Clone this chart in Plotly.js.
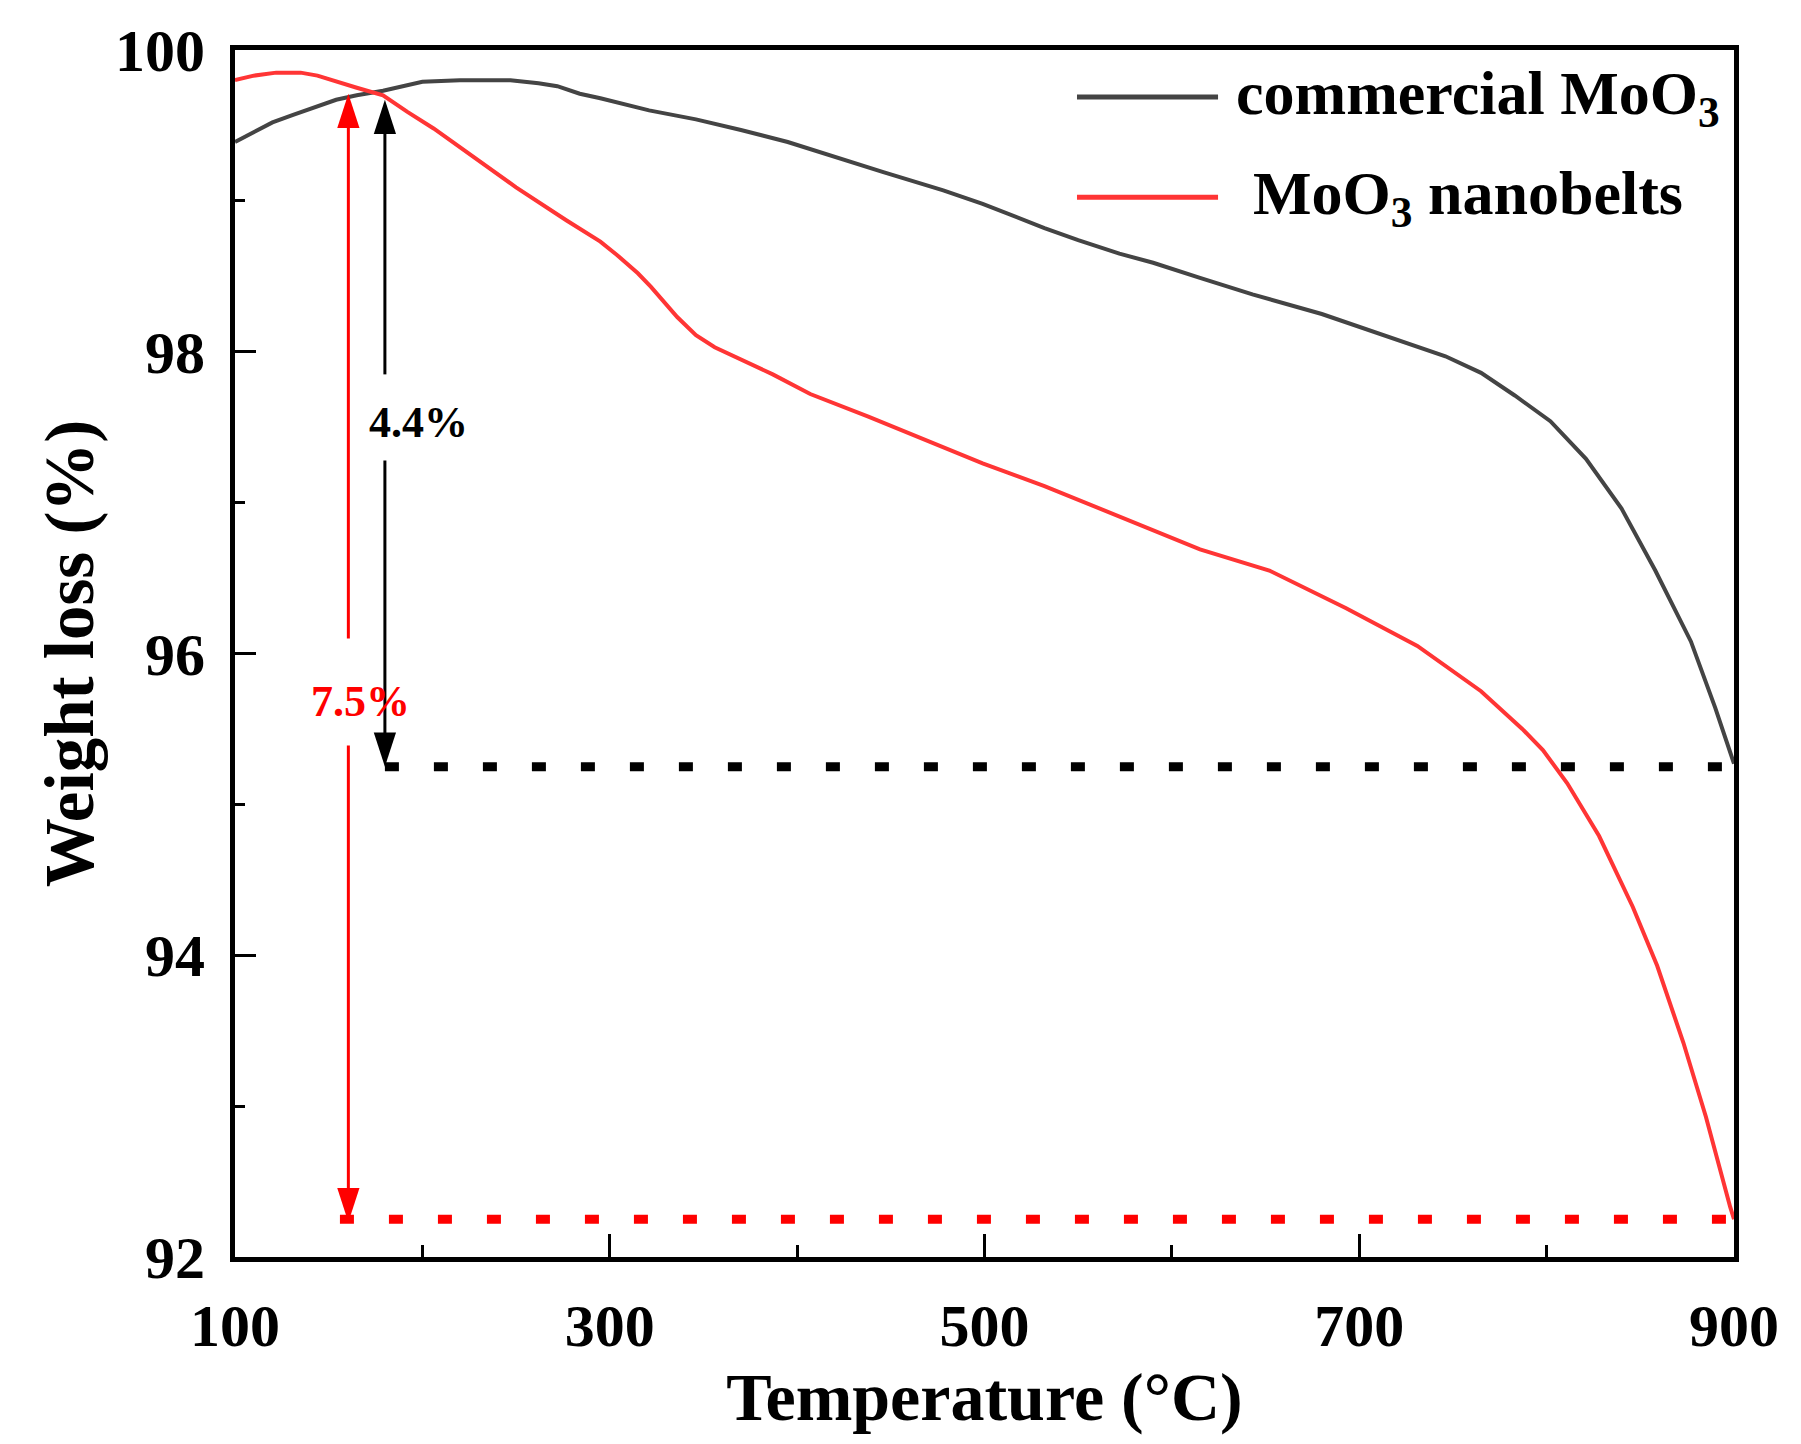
<!DOCTYPE html>
<html>
<head>
<meta charset="utf-8">
<script src="https://cdn.plot.ly/plotly-3.0.1.min.js"></script>
<style>
  html, body { margin: 0; padding: 0; background: #fff; }
  #tga-chart { width: 1801px; height: 1444px; }
</style>
</head>
<body>
<div id="tga-chart"></div>
<script>
// TGA curves
const tempCommercial = [100, 120, 131, 140, 154, 165, 179, 200, 220, 247, 262, 272, 284, 295, 321, 346, 370, 395, 420, 446, 478, 499, 532, 550, 572, 590, 615, 643, 680, 718, 746, 765, 783, 802, 821, 840, 858, 877, 890, 900];
const weightCommercial = [99.39, 99.52, 99.57, 99.61, 99.67, 99.70, 99.73, 99.79, 99.80, 99.80, 99.78, 99.76, 99.71, 99.68, 99.60, 99.54, 99.47, 99.39, 99.29, 99.19, 99.07, 98.98, 98.82, 98.74, 98.65, 98.59, 98.49, 98.38, 98.25, 98.09, 97.97, 97.86, 97.71, 97.54, 97.29, 96.96, 96.55, 96.08, 95.64, 95.27];

const tempNanobelts = [100, 110, 122, 135, 144, 154, 165, 179, 192, 206, 224, 250, 277, 295, 304, 315, 322, 336, 346, 356, 387, 407, 438, 468, 499, 532, 550, 580, 615, 652, 693, 731, 765, 787, 798, 811, 828, 846, 859, 873, 885, 898, 900];
const weightNanobelts = [99.80, 99.83, 99.85, 99.85, 99.83, 99.79, 99.75, 99.70, 99.59, 99.48, 99.32, 99.09, 98.87, 98.73, 98.64, 98.52, 98.43, 98.23, 98.11, 98.03, 97.85, 97.72, 97.57, 97.42, 97.26, 97.11, 97.02, 96.87, 96.69, 96.55, 96.30, 96.05, 95.75, 95.50, 95.36, 95.14, 94.79, 94.32, 93.93, 93.42, 92.93, 92.33, 92.25];

// final weight levels (dotted guides) and where they start
const guideTempBlack = [180, 900];
const guideLevelBlack = [95.25, 95.25];
const guideTempRed = [156, 900];
const guideLevelRed = [92.25, 92.25];

// measuring arrows: [top, gap top, gap bottom, bottom]
const arrowTempBlack = 180;
const arrowLevelsBlack = [99.67, 97.85, 97.28, 95.25];
const arrowTempRed = 160.5;
const arrowLevelsRed = [99.71, 96.10, 95.39, 92.23];

const lossLabels = ['4.4%', '7.5%'];
const lossLabelTemp = [197.7, 167.2];
const lossLabelLevel = [97.53, 95.68];

const seriesNames = ['commercial MoO<sub>3</sub>', 'MoO<sub>3</sub> nanobelts'];

const FONT = '"Liberation Serif", "Times New Roman", Times, serif';
const GREY = '#444444';
const RED = '#ff3535';

// one shaft of a measuring arrow, head drawn at the "to" end
function arrowTrace(x, from, to, color) {
    return {
        x: [x, x], y: [from, to],
        type: 'scatter', mode: 'lines+markers', hoverinfo: 'skip',
        line: { color: color, width: 3 },
        marker: {
            symbol: 'arrow', angleref: 'previous', size: [0, 36],
            color: color, opacity: 1, line: { width: 0 }
        }
    };
}

const data = [
    {
        x: tempCommercial, y: weightCommercial,
        type: 'scatter', mode: 'lines', name: seriesNames[0],
        line: { color: GREY, width: 4 }
    },
    {
        x: tempNanobelts, y: weightNanobelts,
        type: 'scatter', mode: 'lines', name: seriesNames[1],
        line: { color: RED, width: 4 }
    },
    {
        x: guideTempBlack, y: guideLevelBlack,
        type: 'scatter', mode: 'lines', hoverinfo: 'skip',
        line: { color: '#000', width: 9, dash: '14px,35px' }
    },
    {
        x: guideTempRed, y: guideLevelRed,
        type: 'scatter', mode: 'lines', hoverinfo: 'skip',
        line: { color: '#ff0000', width: 9, dash: '14px,35px' }
    },
    arrowTrace(arrowTempBlack, arrowLevelsBlack[1], arrowLevelsBlack[0], '#000'),
    arrowTrace(arrowTempBlack, arrowLevelsBlack[2], arrowLevelsBlack[3], '#000'),
    arrowTrace(arrowTempRed, arrowLevelsRed[1], arrowLevelsRed[0], '#ff0000'),
    arrowTrace(arrowTempRed, arrowLevelsRed[2], arrowLevelsRed[3], '#ff0000')
];

const annotations = [
    {
        xref: 'x', yref: 'y', x: lossLabelTemp[0], y: lossLabelLevel[0],
        text: lossLabels[0], showarrow: false,
        font: { family: FONT, size: 44, color: '#000', weight: 700 }
    },
    {
        xref: 'x', yref: 'y', x: lossLabelTemp[1], y: lossLabelLevel[1],
        text: lossLabels[1], showarrow: false,
        font: { family: FONT, size: 44, color: '#ff0000', weight: 700 }
    },
    // hand-made legend text
    {
        xref: 'paper', yref: 'paper', x: 0.6664, y: 0.961,
        xanchor: 'left', yanchor: 'middle',
        text: seriesNames[0], showarrow: false,
        font: { family: FONT, size: 62, color: '#000', weight: 700 }
    },
    {
        xref: 'paper', yref: 'paper', x: 0.6778, y: 0.878,
        xanchor: 'left', yanchor: 'middle',
        text: seriesNames[1], showarrow: false,
        font: { family: FONT, size: 62, color: '#000', weight: 700 }
    }
];

const shapes = [
    { type: 'line', xref: 'paper', yref: 'paper', x0: 0.5617, x1: 0.6558, y0: 0.961, y1: 0.961,
      line: { color: GREY, width: 5 } },
    { type: 'line', xref: 'paper', yref: 'paper', x0: 0.5617, x1: 0.6558, y0: 0.878, y1: 0.878,
      line: { color: RED, width: 5 } }
];

const axisCommon = {
    ticks: 'inside', tickwidth: 3, tickcolor: '#000',
    linecolor: '#000', linewidth: 5, mirror: true,
    showgrid: false, zeroline: false,
    tickfont: { family: FONT, size: 60, color: '#000', weight: 700 }
};

const layout = {
    width: 1801, height: 1444,
    margin: { l: 235, r: 67, t: 50, b: 187 },
    paper_bgcolor: '#fff', plot_bgcolor: '#fff',
    showlegend: false,
    font: { family: FONT, size: 60, color: '#000', weight: 700 },
    xaxis: Object.assign({}, axisCommon, {
        range: [100, 900], tick0: 100, dtick: 200, ticklen: 23,
        minor: { dtick: 100, ticks: 'inside', ticklen: 12, tickwidth: 3, tickcolor: '#000' },
        ticklabelstandoff: 12,
        title: { text: 'Temperature (°C)', font: { family: FONT, size: 68, color: '#000', weight: 700 }, standoff: 16 }
    }),
    yaxis: Object.assign({}, axisCommon, {
        range: [92, 100], tick0: 92, dtick: 2, ticklen: 21,
        minor: { dtick: 1, ticks: 'inside', ticklen: 10, tickwidth: 3, tickcolor: '#000' },
        ticklabelstandoff: 13,
        title: { text: 'Weight loss (%)', font: { family: FONT, size: 69, color: '#000', weight: 700 }, standoff: 0 }
    }),
    annotations: annotations,
    shapes: shapes
};

Plotly.newPlot('tga-chart', data, layout, { displayModeBar: false, staticPlot: true });
</script>
</body>
</html>
